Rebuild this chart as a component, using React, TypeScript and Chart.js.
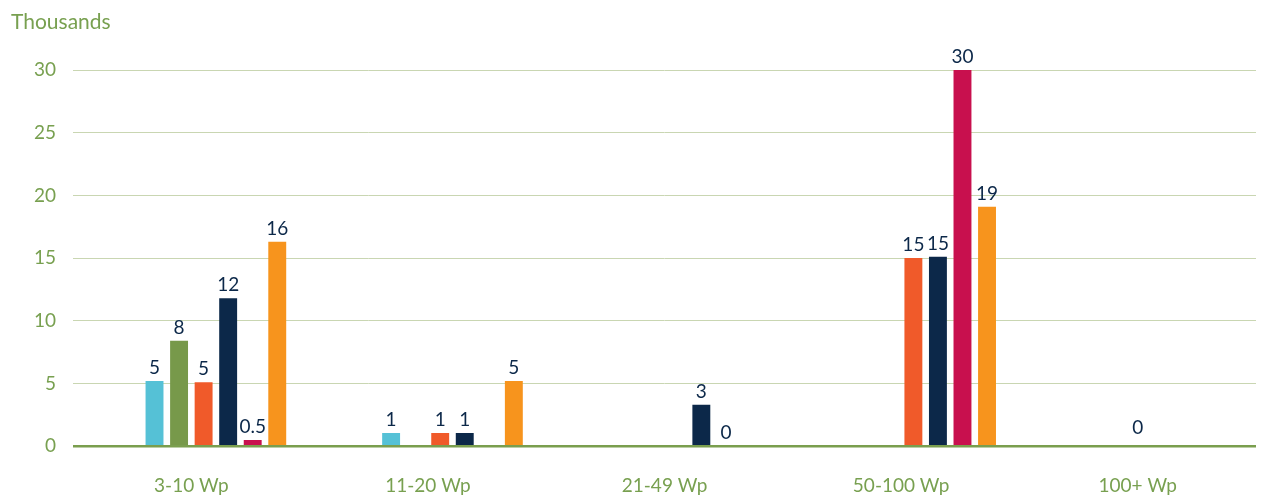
import React, { useEffect, useRef } from "react";
import { Chart, registerables } from "chart.js";

Chart.register(...registerables);

const categories = ["3-10 Wp", "11-20 Wp", "21-49 Wp", "50-100 Wp", "100+ Wp"];
const seriesA: (number | null)[] = [null, null, null, null, null];
const seriesB: (number | null)[] = [null, null, null, null, null];
const cyanSeries: (number | null)[] = [5.2, 1.06, null, null, null];
const greenSeries: (number | null)[] = [8.4, null, null, null, null];
const redOrangeSeries: (number | null)[] = [5.1, 1.06, null, 15.0, null];
const navySeries: (number | null)[] = [11.8, 1.06, 3.3, 15.1, null];
const crimsonSeries: (number | null)[] = [0.5, null, 0, 30, null];
const orangeSeries: (number | null)[] = [16.3, 5.2, null, 19.1, null];
const categoryCenterLabels: (number | null)[] = [null, null, null, null, 0];
const yTicks = [0, 5, 10, 15, 20, 25, 30];

const GREEN = "#78a050";
const NAVY = "#0c2849";
const FONT = "Lato";

const fmt = (v: number) => (v > 0 && v < 1 ? v.toFixed(1) : String(Math.round(v)));

const labelPlugin = {
  id: "valueLabels",
  afterDatasetsDraw(chart: any) {
    const ctx = chart.ctx;
    ctx.save();
    ctx.font = `19px ${FONT}`;
    ctx.fillStyle = NAVY;
    ctx.textAlign = "center";
    ctx.textBaseline = "alphabetic";
    chart.data.datasets.forEach((ds: any, di: number) => {
      const meta = chart.getDatasetMeta(di);
      meta.data.forEach((el: any, i: number) => {
        const v = ds.data[i];
        if (v === null || v === undefined) return;
        ctx.fillText(fmt(v), el.x, el.y - 7);
      });
    });
    const xs = chart.scales.x;
    const ys = chart.scales.y;
    categoryCenterLabels.forEach((v, i) => {
      if (v === null) return;
      ctx.fillText(fmt(v), xs.getPixelForValue(i), ys.getPixelForValue(v) - 12);
    });
    ctx.font = `21px ${FONT}`;
    ctx.fillStyle = GREEN;
    ctx.textAlign = "left";
    ctx.textBaseline = "middle";
    ctx.fillText("Thousands", 11, 22);
    ctx.restore();
  },
};

export default function App() {
  const ref = useRef<HTMLCanvasElement | null>(null);
  useEffect(() => {
    document.body.style.margin = "0";
    if (!ref.current) return;
    const mk = (label: string, data: (number | null)[], color: string) => ({
      label,
      data,
      backgroundColor: color,
      borderWidth: 0,
      categoryPercentage: 0.83,
      barPercentage: 0.73,
    });
    const chart = new Chart(ref.current, {
      type: "bar",
      data: {
        labels: categories,
        datasets: [
          mk("Series A", seriesA, "#999999"),
          mk("Series B", seriesB, "#999999"),
          mk("Series C", cyanSeries, "#55c1d6"),
          mk("Series D", greenSeries, "#77994a"),
          mk("Series E", redOrangeSeries, "#f05a2a"),
          mk("Series F", navySeries, NAVY),
          mk("Series G", crimsonSeries, "#c8104e"),
          mk("Series H", orangeSeries, "#f7941d"),
        ],
      },
      options: {
        responsive: false,
        animation: false,
        layout: { padding: { top: 70, left: 17, right: 11, bottom: -25 } },
        plugins: {
          legend: { display: false },
          tooltip: { enabled: false },
          title: { display: false },
        },
        scales: {
          x: {
            grid: { display: false, drawTicks: false },
            border: { display: false },
            ticks: { color: GREEN, font: { family: FONT, size: 19 }, padding: 28, maxRotation: 0 },
          },
          y: {
            min: 0,
            max: 30,
            afterBuildTicks: (axis: any) => {
              axis.ticks = yTicks.map((v) => ({ value: v }));
            },
            grid: {
              drawTicks: false,
              color: (c: any) => (c.tick && c.tick.value === 0 ? "#7a9e4e" : "#c9d6b2"),
              lineWidth: (c: any) => (c.tick && c.tick.value === 0 ? 2.5 : 1),
            },
            border: { display: false },
            ticks: { color: GREEN, font: { family: FONT, size: 19 }, padding: 17 },
          },
        },
      },
      plugins: [labelPlugin],
    });
    return () => chart.destroy();
  }, []);
  return (
    <div style={{ width: 1267, height: 500 }}>
      <canvas ref={ref} width={1267} height={500} />
    </div>
  );
}
